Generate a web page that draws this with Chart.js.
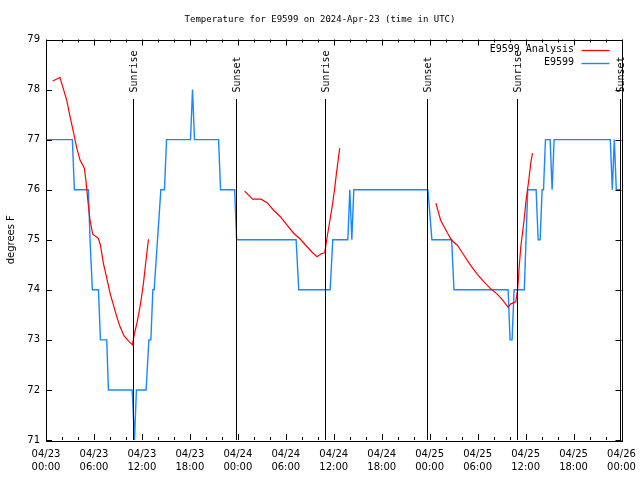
<!DOCTYPE html>
<html>
<head>
<meta charset="utf-8">
<title>Temperature for E9599</title>
<script src="https://cdn.jsdelivr.net/npm/chart.js@4.4.1/dist/chart.umd.min.js"></script>
<style>
    html, body { margin: 0; padding: 0; background: #fff; }
</style>
</head>
<body>
<canvas id="tempChart" width="640" height="480"></canvas>
<script>
// hours since 2024-04-23 00:00 UTC

// E9599 observations (degrees F)
const obsHours = [0, 3.30, 3.55, 5.30, 5.51, 5.80, 6.56, 6.81, 7.60, 7.81,
    10.78, 11.07, 11.31, 12.53, 12.87, 13.12, 13.37, 13.53, 13.95, 14.37,
    14.82, 15.08, 18.08, 18.33, 18.58, 21.59, 21.84, 23.60, 23.85, 31.29,
    31.62, 35.55, 35.88, 37.76, 38.01, 38.26, 38.51, 47.78, 48.28, 50.75,
    51.04, 57.81, 58.06, 58.31, 58.56, 59.84, 60.27, 61.32, 61.57, 61.82,
    62.07, 62.24, 62.49, 63.07, 63.32, 63.57, 70.60, 70.85, 71.10, 71.35, 71.92];
const obsTemps = [77, 77, 76, 76, 75, 74, 74, 73, 73, 72,
    72, 71, 72, 72, 73, 73, 74, 74, 75, 76,
    76, 77, 77, 78, 77, 77, 76, 76, 75, 75,
    74, 74, 75, 75, 76, 75, 76, 76, 75, 75,
    74, 74, 73, 73, 74, 74, 76, 76, 75, 75,
    76, 76, 77, 77, 76, 77, 77, 76, 77, 76, 76];

// E9599 Analysis (null = no analysis in between)
const fitHours = [0.84, 1.75, 2.59, 3.01, 3.42, 3.85, 4.26, 4.80, 5.01, 5.23,
    5.51, 5.85, 6.55, 6.80, 7.18, 7.61, 8.02, 8.43, 8.86, 9.27,
    9.77, 10.31, 10.81, 11.07, 11.37, 11.65, 11.90, 12.19, 12.49, 12.82,
    18,
    24.85, 25.85, 26.90, 27.66, 28.48, 29.32, 30.16, 30.99, 31.83, 32.67,
    33.42, 33.92, 34.42, 34.87, 35.18, 35.46, 35.80, 36.09, 36.34, 36.55, 36.75,
    42,
    48.78, 49.37, 50.21, 50.75, 51.47, 52.29, 53.13, 53.97, 54.80, 55.64,
    56.48, 57.11, 57.81, 58.15, 58.77, 59.00, 59.20, 59.40, 59.81, 60.06,
    60.40, 60.65, 60.86];
const fitTemps = [78.17, 78.24, 77.79, 77.46, 77.16, 76.83, 76.59, 76.43, 76.16, 75.79,
    75.39, 75.11, 75.03, 74.90, 74.53, 74.23, 73.93, 73.70, 73.46, 73.26,
    73.08, 72.98, 72.90, 73.13, 73.33, 73.56, 73.80, 74.13, 74.56, 75.01,
    null,
    75.97, 75.81, 75.81, 75.74, 75.59, 75.46, 75.29, 75.13, 75.01, 74.86,
    74.73, 74.66, 74.72, 74.74, 75.06, 75.33, 75.66, 75.99, 76.33, 76.59, 76.83,
    null,
    75.73, 75.39, 75.14, 74.99, 74.89, 74.69, 74.49, 74.31, 74.16, 74.02,
    73.91, 73.80, 73.65, 73.72, 73.76, 74.00, 74.45, 74.86, 75.39, 75.79,
    76.19, 76.53, 76.73];

const sunriseHours = [10.88, 34.90, 58.93];
const sunsetHours = [23.77, 47.67, 71.81];

const xTickLabels = [
    ['04/23', '00:00'], ['04/23', '06:00'], ['04/23', '12:00'], ['04/23', '18:00'],
    ['04/24', '00:00'], ['04/24', '06:00'], ['04/24', '12:00'], ['04/24', '18:00'],
    ['04/25', '00:00'], ['04/25', '06:00'], ['04/25', '12:00'], ['04/25', '18:00'],
    ['04/26', '00:00']
];

const chartTitle = 'Temperature for E9599 on 2024-Apr-23 (time in UTC)';

const monoFont = 'DejaVu Sans Mono';
const sansFont = 'DejaVu Sans';

// title centred on the whole canvas, like gnuplot does
const pageTitle = {
    id: 'pageTitle',
    afterDraw(chart) {
        const { ctx } = chart;
        ctx.save();
        ctx.fillStyle = '#000';
        ctx.font = '9px "' + monoFont + '"';
        ctx.textAlign = 'center';
        ctx.textBaseline = 'middle';
        ctx.fillText(chartTitle, chart.width / 2, 19.5);
        ctx.restore();
    }
};

// gnuplot-like frame with inward ticks on all four sides
const frameTicks = {
    id: 'frameTicks',
    afterDatasetsDraw(chart) {
        const { ctx, chartArea: a, scales: { x, y } } = chart;
        ctx.save();
        ctx.strokeStyle = '#000';
        ctx.lineWidth = 1;
        ctx.beginPath();
        for (let h = 0; h <= 72; h += 2) {
            const px = Math.round(x.getPixelForValue(h)) + 0.5;
            const len = h % 6 === 0 ? 6 : 3;
            ctx.moveTo(px, a.bottom); ctx.lineTo(px, a.bottom - len);
            ctx.moveTo(px, a.top); ctx.lineTo(px, a.top + len);
        }
        for (let t = 71; t <= 79; t++) {
            const py = Math.round(y.getPixelForValue(t)) + 0.5;
            ctx.moveTo(a.left, py); ctx.lineTo(a.left + 6, py);
            ctx.moveTo(a.right, py); ctx.lineTo(a.right - 6, py);
        }
        ctx.stroke();
        ctx.strokeRect(Math.round(a.left) + 0.5, Math.round(a.top) + 0.5,
            Math.round(a.right - a.left), Math.round(a.bottom - a.top));
        ctx.restore();
    }
};

// vertical sunrise / sunset markers
const sunMarkers = {
    id: 'sunMarkers',
    afterDatasetsDraw(chart) {
        const { ctx, chartArea: a, scales: { x } } = chart;
        const draw = (h, label) => {
            const px = Math.round(x.getPixelForValue(h)) + 0.5;
            ctx.beginPath();
            ctx.moveTo(px, a.top + 59.5);
            ctx.lineTo(px, a.bottom);
            ctx.stroke();
            ctx.save();
            ctx.translate(px + 1, a.top + 53);
            ctx.rotate(-Math.PI / 2);
            ctx.fillText(label, 0, 0);
            ctx.restore();
        };
        ctx.save();
        ctx.strokeStyle = '#000';
        ctx.fillStyle = '#000';
        ctx.lineWidth = 1;
        ctx.font = '10px "' + monoFont + '"';
        ctx.textAlign = 'left';
        ctx.textBaseline = 'middle';
        sunriseHours.forEach(h => draw(h, 'Sunrise'));
        sunsetHours.forEach(h => draw(h, 'Sunset'));
        ctx.restore();
    }
};

// key in the top right corner
const cornerLegend = {
    id: 'cornerLegend',
    afterDraw(chart) {
        const { ctx, chartArea: a } = chart;
        ctx.save();
        ctx.font = '10px "' + monoFont + '"';
        ctx.textAlign = 'right';
        ctx.textBaseline = 'middle';
        chart.data.datasets.forEach((ds, i) => {
            const py = a.top + 10 + i * 13;
            ctx.fillStyle = '#000';
            ctx.fillText(ds.label, a.right - 47.5, py);
            ctx.strokeStyle = ds.borderColor;
            ctx.lineWidth = ds.borderWidth;
            ctx.beginPath();
            ctx.moveTo(a.right - 40, Math.round(py) + 0.5);
            ctx.lineTo(a.right - 12, Math.round(py) + 0.5);
            ctx.stroke();
        });
        ctx.restore();
    }
};

const obsPoints = obsHours.map((h, i) => ({ x: h, y: obsTemps[i] }));
const fitPoints = fitHours.map((h, i) => ({ x: h, y: fitTemps[i] }));

new Chart(document.getElementById('tempChart'), {
    type: 'line',
    data: {
        datasets: [{
            label: 'E9599 Analysis',
            data: fitPoints,
            borderColor: '#ff0000',
            borderWidth: 1.2,
            pointRadius: 0,
            tension: 0,
            spanGaps: false
        }, {
            label: 'E9599',
            data: obsPoints,
            borderColor: '#1a86ff',
            borderWidth: 1.4,
            pointRadius: 0,
            tension: 0
        }]
    },
    options: {
        responsive: false,
        animation: false,
        layout: {
            padding: { left: 0, right: 18.5, top: 39.5, bottom: 0 }
        },
        plugins: {
            legend: { display: false },
            tooltip: { enabled: false },
            title: { display: false }
        },
        scales: {
            x: {
                type: 'linear',
                min: 0,
                max: 72,
                grid: { display: false, drawTicks: false },
                border: { display: false },
                ticks: {
                    stepSize: 6,
                    autoSkip: false,
                    maxRotation: 0,
                    padding: 8,
                    color: '#000',
                    font: { family: sansFont, size: 10, lineHeight: 1.3 },
                    callback: (value, index) => xTickLabels[index]
                },
                afterFit: scale => {
                    scale.height = 40;
                    // edge labels may overhang the frame, as in the original
                    scale.paddingLeft = 0;
                    scale.paddingRight = 0;
                }
            },
            y: {
                min: 71,
                max: 79,
                grid: { display: false, drawTicks: false },
                border: { display: false },
                ticks: {
                    stepSize: 1,
                    padding: 6,
                    color: '#000',
                    font: { family: sansFont, size: 10 }
                },
                title: {
                    display: true,
                    text: 'degrees F',
                    color: '#000',
                    font: { family: sansFont, size: 10 },
                    padding: { top: 5, bottom: 0 }
                },
                afterFit: scale => { scale.width = 46; }
            }
        }
    },
    plugins: [frameTicks, sunMarkers, cornerLegend, pageTitle]
});
</script>
</body>
</html>
